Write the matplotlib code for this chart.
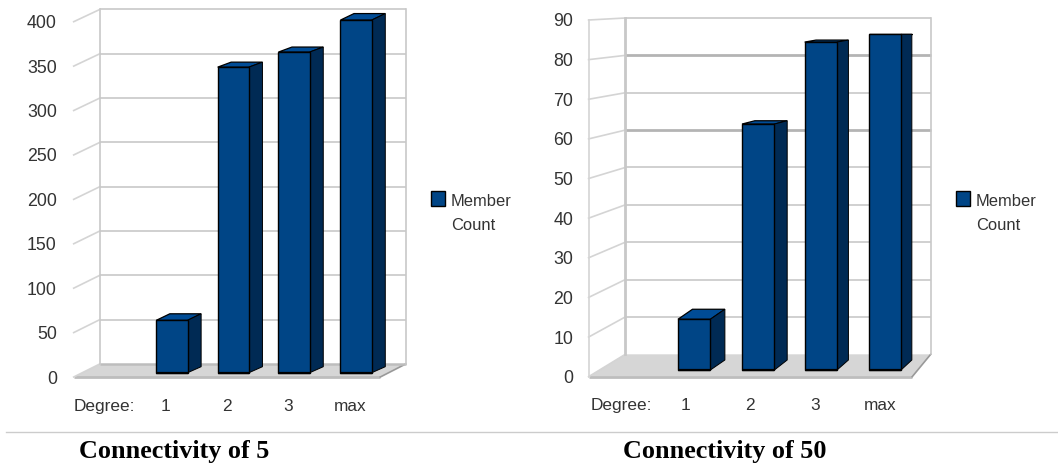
import matplotlib
matplotlib.use("Agg")
import matplotlib.pyplot as plt
from matplotlib.legend_handler import HandlerPatch
from matplotlib.patches import Patch, Rectangle

W, H = 1058, 463

x_labels = ["Degree:", "1", "2", "3", "max"]
series_name = "Member\nCount"

counts_5 = [59, 344, 361, 397]
ticks_5 = [0, 50, 100, 150, 200, 250, 300, 350, 400]
title_5 = "Connectivity of 5"

counts_50 = [13, 63, 84, 86]
ticks_50 = [0, 10, 20, 30, 40, 50, 60, 70, 80, 90]
title_50 = "Connectivity of 50"

FRONT = "#004586"
SIDE = "#002a54"
TOP = "#004c96"
GRID = "#c8c8c8"
WALL_SIDE = "#d4d4d4"
FLOOR = "#d6d6d6"
TEXT = "#333333"

# Pixel geometry of each pseudo-3D chart box and its per-bar depth
frame_5 = dict(fl=73.7, fr=380.3, bl=99.7, br=405.7, fy0=377.0, fyt=21.7,
               by0=364.0, byt=9.5, bar_w=31.3, bar_base=4.3, bar_scale=1.0,
               bar_shift=[6.3, 6.3, 5.8, 6.5], depth_x=[13.5, 13.5, 13.5, 13.5],
               depth_top=[6.5, 5, 5, 6.5], depth_bottom=[6, 6, 6, 6],
               side_edge=False, heavy=[], floor_edge=True, pad=12.2, tick_fs=12.8,
               legend_x=431.0, title_x=174.0)
frame_50 = dict(fl=588.6, fr=912.2, bl=625.3, br=930.7, fy0=376.7, fyt=20.0,
                by0=354.3, byt=18.0, bar_w=32.4, bar_base=6.7, bar_scale=0.985,
                bar_shift=[8.5, 7.8, 5.7, 5], depth_x=[14.5, 12.8, 11.4, 10.8],
                depth_top=[10, 3.3, 2, 0], depth_bottom=[10, 10, 10, 10],
                side_edge=True, heavy=[60, 80], floor_edge=False, pad=11.2, tick_fs=12.8,
                legend_x=956.0, title_x=725.0)

fig = plt.figure(figsize=(W / 100, H / 100), dpi=100, facecolor="white")
plt.rcParams["font.family"] = ["Liberation Sans", "DejaVu Sans"]


def raised_key(legend, orig_handle, xdescent, ydescent, width, height, fontsize):
    # Lines the legend key up with the first line of a two-line label
    return Rectangle((-xdescent, -ydescent + 0.93 * fontsize), width, height)


def draw_chart(counts, ticks, title, f):
    ax = fig.add_axes([f["fl"] / W, 1 - f["fy0"] / H,
                       (f["fr"] - f["fl"]) / W, (f["fy0"] - f["fyt"]) / H])
    ax.patch.set_alpha(0)
    for spine in ax.spines.values():
        spine.set_visible(False)
    ax.set_xlim(-0.5, 4.5)
    ax.set_ylim(ticks[0], ticks[-1])

    slot = (f["fr"] - f["fl"]) / 5
    k = (f["fy0"] - f["fyt"]) / ticks[-1]
    px_x = lambda px: -0.5 + (px - f["fl"]) / slot
    px_y = lambda py: (f["fy0"] - py) / k
    back_y = lambda v: f["by0"] - v * (f["by0"] - f["byt"]) / ticks[-1]
    front_y = lambda v: f["fy0"] - v * k

    # Floor
    ax.fill([px_x(f["fl"]), px_x(f["bl"]), px_x(f["br"]), px_x(f["fr"])],
            [px_y(f["fy0"]), px_y(f["by0"]), px_y(f["by0"]), px_y(f["fy0"])],
            color=FLOOR, lw=0, zorder=1, clip_on=False)
    ax.plot([px_x(f["fl"]), px_x(f["fr"])], [px_y(f["fy0"])] * 2, color="#bdbdbd",
            lw=2.0, zorder=1.5, clip_on=False, solid_capstyle="butt")
    ax.plot([px_x(f["fr"]), px_x(f["br"])], [px_y(f["fy0"]), px_y(f["by0"])],
            color="#999999", lw=1.2, zorder=1.5, clip_on=False)
    if f["floor_edge"]:
        ax.plot([px_x(f["bl"]), px_x(f["br"])], [px_y(f["by0"])] * 2, color="#bdbdbd",
                lw=1.8, zorder=1.5, clip_on=False, solid_capstyle="butt")

    # Back wall, side wall and gridlines
    for v in ticks:
        heavy = v in f["heavy"]
        if v > 0:
            ax.plot([px_x(f["bl"]), px_x(f["br"])], [px_y(back_y(v))] * 2,
                    color="#b4b4b4" if heavy else GRID, lw=2.0 if heavy else 1.2,
                    zorder=2, clip_on=False, solid_capstyle="butt")
        ax.plot([px_x(f["fl"]), px_x(f["bl"])], [px_y(front_y(v)), px_y(back_y(v))],
                color=WALL_SIDE, lw=1.2, zorder=2, clip_on=False)
    ax.plot([px_x(f["bl"]), px_x(f["bl"])], [px_y(f["by0"]), px_y(f["byt"])],
            color=GRID, lw=2.0 if f["side_edge"] else 1.2, zorder=2, clip_on=False)
    ax.plot([px_x(f["br"]), px_x(f["br"])], [px_y(f["by0"]), px_y(f["byt"])],
            color=GRID, lw=1.2, zorder=2, clip_on=False)
    if f["side_edge"]:
        ax.plot([px_x(f["fl"]), px_x(f["fl"])], [px_y(f["fy0"]), px_y(f["fyt"])],
                color=WALL_SIDE, lw=1.2, zorder=2, clip_on=False)

    # Bars: front face through bar(), then top and side faces for depth
    width = f["bar_w"] / slot
    base = f["bar_base"] / k
    for i, value in enumerate(counts):
        x = i + 1 + f["bar_shift"][i] / slot
        height = value * f["bar_scale"]
        top = base + height
        left, right = x - width / 2, x + width / 2
        dx = f["depth_x"][i] / slot
        dt = f["depth_top"][i] / k
        db = f["depth_bottom"][i] / k
        ax.fill([left, right, right + dx, left + dx], [top, top, top + dt, top + dt],
                facecolor=TOP, edgecolor="black", lw=0.9, zorder=3, clip_on=False)
        ax.fill([right, right + dx, right + dx, right],
                [top, top + dt, base + db, base],
                facecolor=SIDE, edgecolor="black", lw=0.7, zorder=3, clip_on=False)
        ax.bar(x, height, width=width, bottom=base, color=FRONT, edgecolor="black",
               linewidth=1.0, zorder=4, clip_on=False)
        ax.plot([left, right], [base, base], color="black", lw=1.6, zorder=5,
                clip_on=False, solid_capstyle="butt")

    # Axis text
    ax.set_yticks(ticks)
    ax.set_yticklabels([str(t) for t in ticks], fontsize=f["tick_fs"], color=TEXT)
    ax.set_xticks(range(len(x_labels)))
    ax.set_xticklabels(x_labels, fontsize=12.4, color=TEXT)
    ax.tick_params(axis="y", length=0, pad=f["pad"])
    ax.tick_params(axis="x", length=0, pad=15.5)

    # Legend key and label
    key = Patch(facecolor=FRONT, edgecolor="black", lw=1.0, label=series_name)
    legend = ax.legend(handles=[key], loc="upper left", frameon=False, fontsize=11.9,
                       labelcolor=TEXT, bbox_to_anchor=(f["legend_x"] / W, 1 - 194 / H),
                       bbox_transform=fig.transFigure, borderpad=0, borderaxespad=0,
                       handlelength=0.82, handleheight=1.0, handletextpad=0.38, labelspacing=0,
                       handler_map={Patch: HandlerPatch(patch_func=raised_key)})
    label = legend.get_texts()[0]
    label.set_linespacing(1.72)
    label.set_multialignment("left")

    ax.set_title(title, x=(f["title_x"] - f["fl"]) / (f["fr"] - f["fl"]),
                 y=(f["fy0"] - 458) / (f["fy0"] - f["fyt"]), pad=0,
                 fontsize=18.8, fontweight="bold", family="Liberation Serif", color="black")


draw_chart(counts_5, ticks_5, title_5, frame_5)
draw_chart(counts_50, ticks_50, title_50, frame_50)

# Rule between the charts and their captions
fig.add_artist(plt.Line2D([6 / W, 1], [1 - 431.7 / H] * 2, color="#cccccc", lw=1.0))

fig.savefig("out.png", dpi=100, facecolor="white")
